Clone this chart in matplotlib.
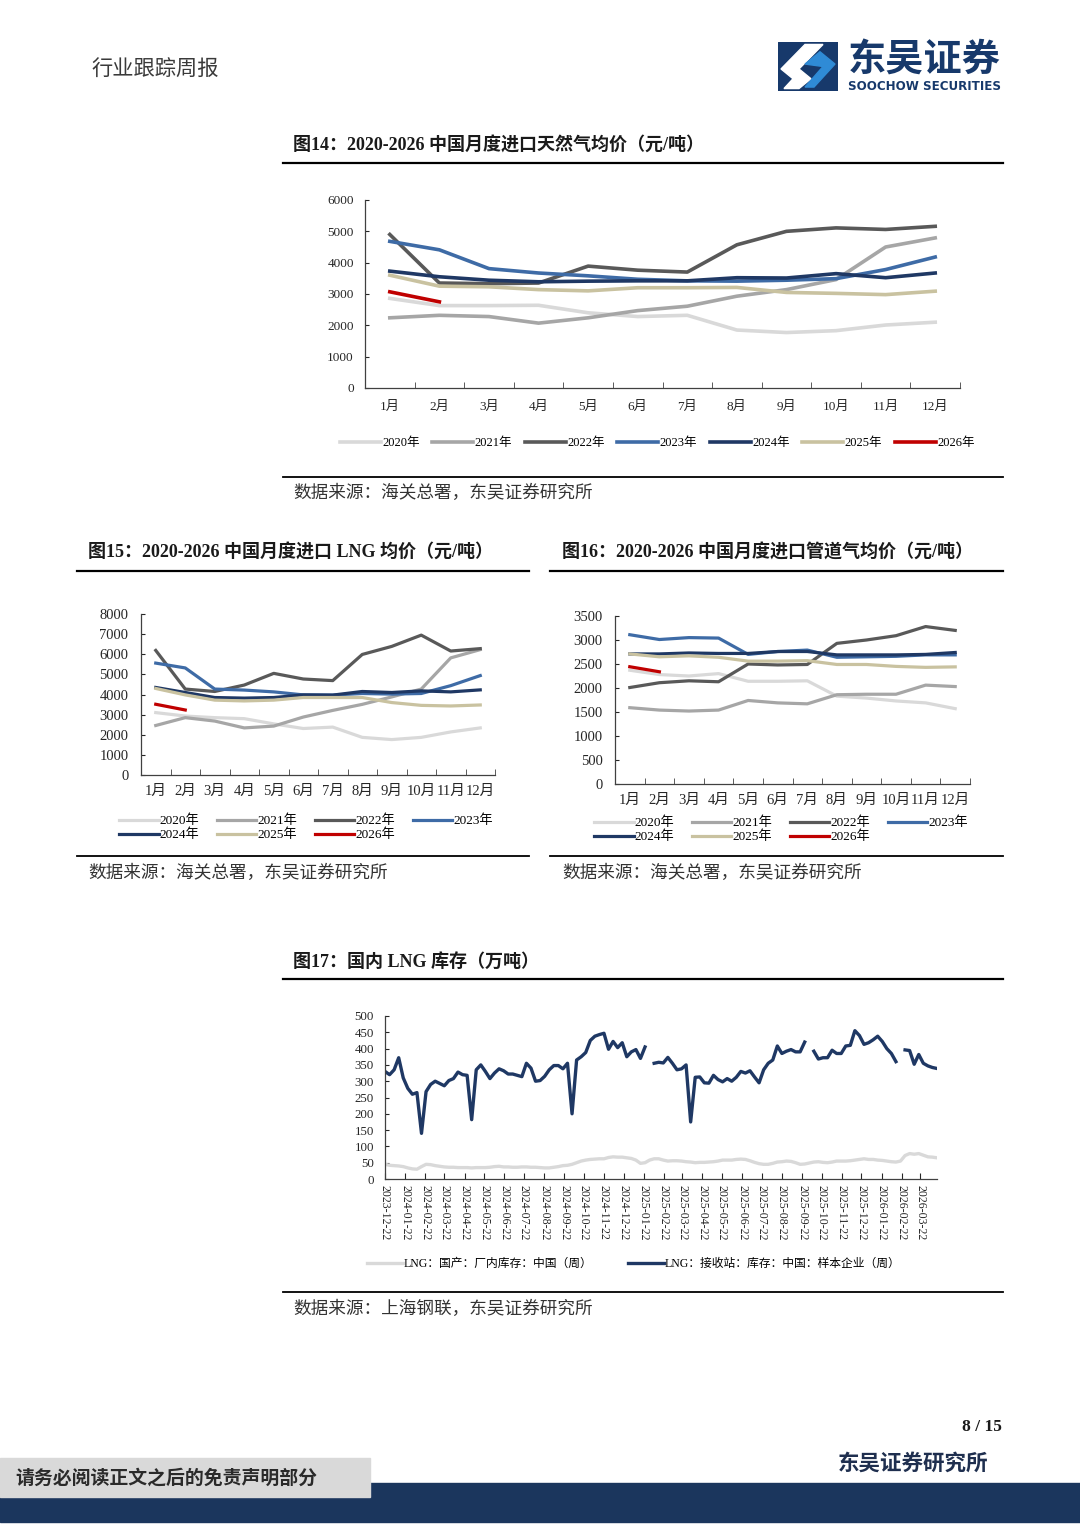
import matplotlib
matplotlib.use('Agg')
import matplotlib.pyplot as plt
import numpy as np
import pandas as pd
from matplotlib.lines import Line2D
from matplotlib.patches import Rectangle, Polygon

W, H = 1080, 1527
CJK = ['Noto Sans CJK SC', 'DejaVu Sans']
SER = ['Liberation Serif', 'Noto Sans CJK SC', 'DejaVu Sans']
plt.rcParams['font.family'] = SER

# ---------------- data ----------------
months = ['1月', '2月', '3月', '4月', '5月', '6月', '7月', '8月', '9月', '10月', '11月', '12月']
years = ['2020年', '2021年', '2022年', '2023年', '2024年', '2025年', '2026年']
year_colors = ['#d9d9d9', '#a6a6a6', '#595959', '#3e6ba6', '#1f3864', '#c9c2a0', '#c00000']

# Fig14: imported natural gas average price (yuan/ton)
gas_2020 = [2860, 2630, 2630, 2640, 2400, 2280, 2320, 1850, 1770, 1830, 2010, 2100]
gas_2021 = [2240, 2320, 2280, 2070, 2240, 2470, 2610, 2930, 3140, 3460, 4500, 4790]
gas_2022 = [4900, 3350, 3330, 3350, 3890, 3760, 3700, 4570, 5000, 5110, 5060, 5160]
gas_2023 = [4680, 4410, 3810, 3670, 3580, 3470, 3420, 3410, 3440, 3490, 3780, 4180]
gas_2024 = [3730, 3550, 3440, 3390, 3410, 3420, 3420, 3520, 3510, 3650, 3520, 3670]
gas_2025 = [3600, 3250, 3230, 3140, 3100, 3200, 3200, 3210, 3050, 3020, 2980, 3090]
gas_2026 = [3070, 2750]

# Fig15: imported LNG average price
lng_2020 = [3100, 2930, 2850, 2800, 2540, 2310, 2380, 1870, 1760, 1870, 2140, 2340]
lng_2021 = [2460, 2850, 2680, 2340, 2430, 2880, 3210, 3510, 3880, 4270, 5820, 6230]
lng_2022 = [6190, 4270, 4150, 4470, 5050, 4770, 4690, 5990, 6390, 6950, 6160, 6280]
lng_2023 = [5560, 5320, 4270, 4220, 4130, 3980, 3970, 4050, 4020, 4050, 4440, 4940]
lng_2024 = [4350, 4100, 3850, 3820, 3850, 3980, 3970, 4150, 4100, 4180, 4130, 4230]
lng_2025 = [4300, 3980, 3720, 3680, 3720, 3850, 3850, 3850, 3600, 3460, 3430, 3480]
lng_2026 = [3515, 3230]

# Fig16: imported pipeline gas average price
pipe_2020 = [2370, 2280, 2250, 2300, 2140, 2140, 2150, 1830, 1790, 1730, 1690, 1570]
pipe_2021 = [1590, 1540, 1520, 1540, 1740, 1690, 1670, 1860, 1870, 1870, 2060, 2030]
pipe_2022 = [2010, 2110, 2150, 2130, 2500, 2480, 2490, 2930, 3000, 3090, 3280, 3200]
pipe_2023 = [3110, 3010, 3050, 3040, 2700, 2760, 2790, 2640, 2650, 2660, 2690, 2690]
pipe_2024 = [2710, 2710, 2730, 2720, 2720, 2760, 2760, 2690, 2690, 2690, 2700, 2740]
pipe_2025 = [2710, 2650, 2670, 2640, 2560, 2560, 2570, 2490, 2490, 2450, 2430, 2440]
pipe_2026 = [2443, 2338]

# Fig17: domestic LNG inventory (10k tons), weekly
inv_start = '2023-12-22'
inv_terminal = [330, 320, 335, 372, 310, 278, 260, 265, 140, 268,
                290, 300, 293, 286, 302, 308, 328, 320, 318, 182,
                335, 350, 330, 308, 325, 338, 332, 322, 322, 318,
                314, 355, 340, 300, 302, 315, 335, 348, 348, 338,
                355, 200, 365, 375, 388, 425, 438, 443, 447, 398,
                422, 403, 418, 375, 390, 397, 370, 405, np.nan, 355,
                358, 356, 373, 355, 335, 338, 350, 175, 312, 313,
                295, 294, 318, 305, 298, 308, 300, 312, 330, 325,
                332, 313, 295, 335, 355, 365, 408, 385, 392, 397,
                390, 390, 420, np.nan, 392, 368, 372, 372, 395, 385,
                385, 408, 410, 455, 440, 413, 418, 427, 438, 422,
                400, 385, 360, np.nan, 396, 394, 352, 382, 355, 347,
                342, 339]
inv_domestic = [45, 42, 41, 40, 38, 34, 31, 30, 38, 45,
                44, 41, 39, 37, 36, 36, 35, 35, 35, 34,
                35, 35, 35, 36, 38, 39, 37, 37, 36, 36,
                37, 37, 36, 36, 35, 34, 34, 36, 38, 41,
                42, 45, 50, 55, 58, 60, 61, 62, 62, 66,
                68, 67, 67, 65, 63, 58, 48, 50, 58, 62,
                62, 58, 55, 56, 56, 55, 53, 52, 50, 51,
                51, 52, 53, 55, 58, 58, 58, 60, 61, 60,
                56, 51, 47, 45, 45, 48, 52, 53, 55, 54,
                50, 45, 46, 49, 52, 53, 51, 50, 52, 55,
                55, 55, 56, 58, 60, 62, 60, 60, 58, 57,
                55, 53, 52, 55, 72, 78, 76, 78, 73, 68,
                67, 65]
inv_labels = ['LNG：国产：厂内库存：中国（周）', 'LNG：接收站：库存：中国：样本企业（周）']
inv_colors = ['#d9d9d9', '#1f3864']

# ---------------- helpers ----------------
fig = plt.figure(figsize=(W / 100, H / 100), dpi=100)
fig.patch.set_facecolor('white')


def fx(x):
    return x / W


def fy(y):
    return 1 - y / H


def add_ax(l, t, r, b):
    return fig.add_axes([fx(l), fy(b), (r - l) / W, (b - t) / H])


def text(x, y, s, size, weight='normal', color='#262626', ha='left', family=SER, **kw):
    fig.text(fx(x), fy(y), s, fontsize=size, fontweight=weight, color=color,
             ha=ha, va='center', family=family, **kw)


def hline(x0, x1, y, lw=1.4, color='black'):
    fig.add_artist(Line2D([fx(x0), fx(x1)], [fy(y), fy(y)], lw=lw, color=color))


def style_ax(ax):
    for s in ['top', 'right']:
        ax.spines[s].set_visible(False)
    for s in ['left', 'bottom']:
        ax.spines[s].set_color('#404040')
        ax.spines[s].set_linewidth(0.9)
    ax.set_facecolor('none')


def month_chart(ax, series, ylim, ystep, fs, lw, ypad, xpad):
    x = np.arange(12)
    for vals, c, lab in zip(series, year_colors, years):
        ax.plot(x[:len(vals)], vals, color=c, lw=lw, label=lab, solid_joinstyle='round')
    ax.set_xlim(-0.5, 11.5)
    ax.set_ylim(*ylim)
    ax.set_yticks(np.arange(ylim[0], ylim[1] + 1, ystep))
    ax.set_xticks(x)
    ax.set_xticklabels(months)
    ax.set_xticks(np.arange(-0.5, 12, 1), minor=True)
    ax.tick_params(axis='x', which='major', length=0, labelsize=fs, pad=xpad, colors='#262626')
    ax.tick_params(axis='x', which='minor', length=4, direction='in', color='#404040')
    ax.tick_params(axis='y', length=3, direction='in', labelsize=fs, pad=ypad, colors='#262626')
    for lbl in ax.get_xticklabels() + ax.get_yticklabels():
        lbl.set_family(SER)
    style_ax(ax)


def two_row_legend(ax, center):
    h, l = ax.get_legend_handles_labels()
    order = [0, 4, 1, 5, 2, 6, 3]
    fig.legend([h[i] for i in order], [l[i] for i in order], loc='center',
               bbox_to_anchor=(fx(center[0]), fy(center[1])),
               ncol=4, frameon=False, handlelength=3.0, handletextpad=0.1, labelspacing=0.12,
               columnspacing=1.3, prop={'family': SER, 'size': 9.5})


# ---------------- header ----------------
text(92, 70, '行业跟踪周报', 15.3, color='#3a3a3a', family=CJK)
lax = add_ax(778, 42, 838, 91)
lax.set_xlim(0, 1)
lax.set_ylim(0, 1)
lax.axis('off')
lax.add_patch(Rectangle((0, 0), 1, 1, color='#17396b'))
lax.add_patch(Polygon([[0.05, 0.45], [0.45, 0.95], [0.75, 0.95], [0.35, 0.45], [0.55, 0.25], [0.35, 0.05], [0.1, 0.05], [0.25, 0.25]],
                      closed=True, color='white'))
lax.add_patch(Polygon([[0.45, 0.55], [0.7, 0.8], [0.95, 0.55], [0.6, 0.08], [0.45, 0.08], [0.75, 0.5]],
                      closed=True, color='#2f8bd6'))
text(848, 60, '东吴证券', 27.5, weight='bold', color='#17396b', family=CJK)
text(848, 86, 'SOOCHOW SECURITIES', 8.6, weight='bold', color='#17396b', family=['DejaVu Sans'])

# ---------------- Fig14 ----------------
text(293, 146, '图14：2020-2026 中国月度进口天然气均价（元/吨）', 13, weight='bold', color='#1a1a1a')
hline(283, 1003, 163, lw=1.6)
ax14 = add_ax(365, 200, 960, 388)
month_chart(ax14, [gas_2020, gas_2021, gas_2022, gas_2023, gas_2024, gas_2025, gas_2026],
            (0, 6000), 1000, 9.5, 2.6, 8, 9)
fig.legend(*ax14.get_legend_handles_labels(), loc='center', bbox_to_anchor=(fx(657), fy(443)),
           ncol=7, frameon=False, handlelength=3.3, handletextpad=0.1,
           columnspacing=1.0, prop={'family': SER, 'size': 9})
hline(283, 1003, 477, lw=1.3)
text(293, 493, '数据来源：海关总署，东吴证券研究所', 12.7, color='#333333', family=CJK)

# ---------------- Fig15 ----------------
text(88, 553, '图15：2020-2026 中国月度进口 LNG 均价（元/吨）', 13, weight='bold', color='#1a1a1a')
hline(77, 529, 571, lw=1.6)
ax15 = add_ax(141, 614, 495, 775)
month_chart(ax15, [lng_2020, lng_2021, lng_2022, lng_2023, lng_2024, lng_2025, lng_2026],
            (0, 8000), 1000, 10.5, 2.3, 9, 7)
two_row_legend(ax15, (306, 828))
hline(77, 529, 856, lw=1.3)
text(88, 873, '数据来源：海关总署，东吴证券研究所', 12.7, color='#333333', family=CJK)

# ---------------- Fig16 ----------------
text(562, 553, '图16：2020-2026 中国月度进口管道气均价（元/吨）', 13, weight='bold', color='#1a1a1a')
hline(550, 1003, 571, lw=1.6)
ax16 = add_ax(615, 616, 970, 784)
month_chart(ax16, [pipe_2020, pipe_2021, pipe_2022, pipe_2023, pipe_2024, pipe_2025, pipe_2026],
            (0, 3500), 500, 10.5, 2.3, 9, 7)
two_row_legend(ax16, (781, 830))
hline(550, 1003, 856, lw=1.3)
text(562, 873, '数据来源：海关总署，东吴证券研究所', 12.7, color='#333333', family=CJK)

# ---------------- Fig17 ----------------
text(293, 962, '图17：国内 LNG 库存（万吨）', 13, weight='bold', color='#1a1a1a')
hline(283, 1003, 979, lw=1.6)
ax17 = add_ax(385, 1016, 937, 1179)
dates = pd.date_range(inv_start, periods=len(inv_terminal), freq='7D')
ax17.plot(dates, inv_domestic, color=inv_colors[0], lw=2.4, label=inv_labels[0])
ax17.plot(dates, inv_terminal, color=inv_colors[1], lw=2.4, label=inv_labels[1])
ax17.set_xlim(dates[0], dates[-1])
ax17.set_ylim(0, 500)
ax17.set_yticks(np.arange(0, 501, 50))
tick_dates = [pd.Timestamp(inv_start) + pd.DateOffset(months=k) for k in range(28)]
ax17.set_xticks(tick_dates)
ax17.set_xticklabels([d.strftime('%Y-%m-%d') for d in tick_dates], rotation=270, fontsize=8.6)
ax17.tick_params(axis='x', length=4, direction='in', pad=4, colors='#262626')
ax17.tick_params(axis='y', length=3, direction='in', labelsize=9.3, pad=8, colors='#262626')
style_ax(ax17)
fig.legend(*ax17.get_legend_handles_labels(), loc='center', bbox_to_anchor=(fx(634), fy(1264)),
           ncol=2, frameon=False, handlelength=3.0, handletextpad=0.1, columnspacing=3.0,
           prop={'family': SER, 'size': 8.5})
hline(283, 1003, 1292, lw=1.3)
text(293, 1309, '数据来源：上海钢联，东吴证券研究所', 12.7, color='#333333', family=CJK)

# ---------------- footer ----------------
text(1002, 1427, '8 / 15', 12.5, weight='bold', color='#1a1a1a', ha='right')
text(838, 1463, '东吴证券研究所', 15.5, weight='bold', color='#1f2f4f', family=CJK)
fig.add_artist(Rectangle((0, fy(1522)), 1, (1522 - 1483) / H, color='#1b365d', transform=fig.transFigure))
fig.add_artist(Rectangle((0, fy(1497)), fx(370), (1497 - 1458) / H, color='#d9d9d9', transform=fig.transFigure))
text(15, 1478, '请务必阅读正文之后的免责声明部分', 13.6, weight='bold', color='#2a2a2a', family=CJK)

fig.savefig('out.png', dpi=100, facecolor='white')
